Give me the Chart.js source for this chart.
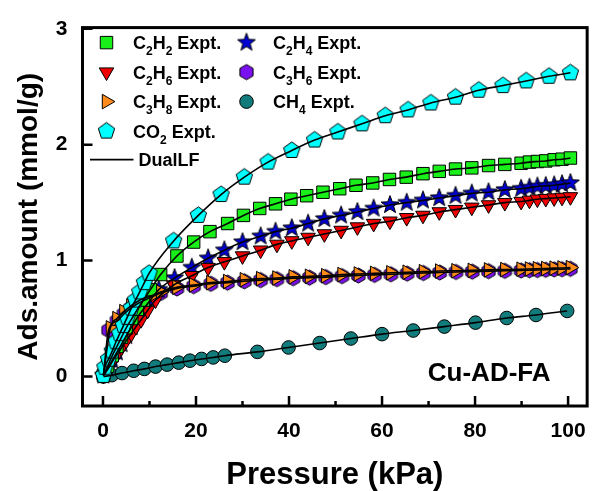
<!DOCTYPE html>
<html>
<head>
<meta charset="utf-8">
<title>Cu-AD-FA isotherms</title>
<script src="https://cdn.jsdelivr.net/npm/chart.js@4.4.1/dist/chart.umd.min.js"></script>
<style>
  html, body { margin: 0; padding: 0; background: #fff; }
</style>
</head>
<body>
<canvas id="isotherm" width="599" height="491"></canvas>
<script>
// isotherm points: pressure (kPa) / uptake (mmol/g)
const pCO2 = [0.1, 0.4, 1.2, 2.0, 2.8, 3.6, 4.4, 5.2, 6.1, 7.0, 7.9, 8.9, 9.9, 15.2, 20.5, 25.4, 30.4, 35.5, 40.6, 45.5, 50.5, 55.7, 60.7, 65.6, 70.5, 75.8, 80.8, 86.0, 91.0, 95.9, 100.5];
const qCO2 = [0.01, 0.08, 0.15, 0.22, 0.30, 0.37, 0.44, 0.51, 0.59, 0.66, 0.73, 0.81, 0.89, 1.17, 1.39, 1.57, 1.72, 1.85, 1.95, 2.04, 2.11, 2.18, 2.25, 2.30, 2.36, 2.41, 2.47, 2.51, 2.55, 2.59, 2.62];

const pC2H2 = [0.1, 1.0, 2.0, 3.0, 4.0, 5.0, 6.2, 7.4, 8.7, 10.2, 12.4, 15.9, 19.5, 23.0, 26.8, 30.2, 33.7, 37.1, 40.4, 43.8, 47.3, 50.9, 54.4, 58.0, 61.6, 65.2, 68.8, 72.3, 75.8, 79.3, 82.9, 86.4, 89.9, 91.7, 93.4, 95.2, 97.0, 98.7, 100.5];
const qC2H2 = [0.01, 0.09, 0.18, 0.26, 0.34, 0.42, 0.50, 0.58, 0.66, 0.75, 0.88, 1.04, 1.16, 1.25, 1.32, 1.39, 1.45, 1.49, 1.53, 1.56, 1.59, 1.62, 1.65, 1.67, 1.70, 1.72, 1.75, 1.77, 1.79, 1.80, 1.82, 1.83, 1.84, 1.85, 1.855, 1.86, 1.87, 1.875, 1.885];

const pC2H4 = [0.1, 1.0, 2.0, 3.0, 4.0, 5.0, 6.2, 7.4, 8.7, 10.2, 12.0, 15.4, 19.1, 22.6, 26.1, 30.0, 33.9, 37.1, 40.6, 44.1, 47.6, 51.2, 54.7, 58.2, 61.7, 65.3, 68.8, 72.3, 75.8, 79.3, 82.9, 86.4, 89.9, 91.7, 93.4, 95.2, 97.0, 98.7, 100.5];
const qC2H4 = [0.01, 0.07, 0.14, 0.21, 0.28, 0.35, 0.43, 0.51, 0.58, 0.66, 0.75, 0.85, 0.94, 1.02, 1.09, 1.16, 1.21, 1.25, 1.28, 1.32, 1.36, 1.39, 1.42, 1.45, 1.48, 1.50, 1.52, 1.54, 1.56, 1.58, 1.59, 1.61, 1.62, 1.63, 1.64, 1.645, 1.65, 1.66, 1.67];

const pC2H6 = [0.1, 1.0, 2.0, 3.0, 4.0, 5.0, 6.1, 7.1, 8.2, 9.6, 11.3, 15.2, 19.1, 22.6, 26.1, 30.0, 33.9, 37.4, 40.6, 44.1, 47.6, 51.2, 54.7, 58.2, 61.7, 65.3, 68.8, 72.3, 75.8, 79.3, 82.9, 86.4, 89.9, 91.7, 93.4, 95.2, 97.0, 98.7, 100.5];
const qC2H6 = [0.01, 0.06, 0.13, 0.19, 0.25, 0.31, 0.37, 0.43, 0.49, 0.57, 0.66, 0.79, 0.87, 0.94, 0.99, 1.04, 1.09, 1.14, 1.17, 1.20, 1.23, 1.26, 1.29, 1.32, 1.34, 1.37, 1.39, 1.42, 1.44, 1.46, 1.48, 1.50, 1.51, 1.52, 1.53, 1.535, 1.54, 1.545, 1.55];

const pC3H8 = [0.1, 1.6, 3.0, 4.5, 6.0, 7.5, 9.0, 10.6, 12.4, 15.9, 19.5, 23.2, 26.8, 30.4, 33.9, 37.4, 40.9, 44.4, 47.9, 51.4, 54.9, 58.4, 61.9, 65.4, 68.9, 72.4, 75.9, 79.4, 82.9, 86.4, 89.9, 91.7, 93.4, 95.2, 97.0, 98.7, 100.5];
const qC3H8 = [0.01, 0.42, 0.50, 0.56, 0.61, 0.65, 0.68, 0.70, 0.73, 0.77, 0.79, 0.81, 0.82, 0.835, 0.845, 0.85, 0.86, 0.865, 0.87, 0.88, 0.885, 0.89, 0.895, 0.90, 0.905, 0.91, 0.913, 0.916, 0.92, 0.923, 0.926, 0.928, 0.93, 0.932, 0.935, 0.937, 0.94];

const pC3H6 = [0.1, 1.2, 3.0, 4.5, 6.0, 7.5, 9.0, 10.6, 12.4, 15.9, 19.5, 23.2, 26.8, 30.4, 33.9, 37.4, 40.9, 44.4, 47.9, 51.4, 54.9, 58.4, 61.9, 65.4, 68.9, 72.4, 75.9, 79.4, 82.9, 86.4, 89.9, 91.7, 93.4, 95.2, 97.0, 98.7, 100.5];
const qC3H6 = [0.01, 0.40, 0.48, 0.54, 0.59, 0.63, 0.66, 0.69, 0.72, 0.76, 0.78, 0.80, 0.81, 0.822, 0.832, 0.84, 0.848, 0.853, 0.858, 0.866, 0.872, 0.877, 0.882, 0.888, 0.893, 0.898, 0.902, 0.905, 0.909, 0.912, 0.915, 0.917, 0.919, 0.921, 0.924, 0.926, 0.929];

const pCH4 = [0.1, 1.9, 4.1, 6.6, 8.9, 11.3, 13.8, 16.3, 18.7, 21.2, 23.7, 26.2, 33.2, 39.9, 46.6, 53.3, 60.0, 66.7, 73.4, 80.1, 86.8, 93.1, 99.8];
const qCH4 = [0.0, 0.012, 0.03, 0.05, 0.066, 0.086, 0.103, 0.12, 0.137, 0.152, 0.165, 0.18, 0.213, 0.251, 0.289, 0.328, 0.366, 0.397, 0.431, 0.465, 0.505, 0.531, 0.566];

const xTicks = [0, 20, 40, 60, 80, 100];
const xMinorTicks = [10, 30, 50, 70, 90];
const yTicks = [0, 1, 2, 3];

const FONT = "'Liberation Sans', Arial, sans-serif";

// filled polygon / star markers drawn once into small canvases
function polyMarker(n, rOut, rIn, fill) {
  const size = Math.ceil(rOut * 2 + 3);
  const c = document.createElement("canvas");
  c.width = size; c.height = size;
  const g = c.getContext("2d");
  const count = rIn ? n * 2 : n;
  g.beginPath();
  for (let i = 0; i < count; i++) {
    const r = rIn && i % 2 ? rIn : rOut;
    const a = -Math.PI / 2 + i * 2 * Math.PI / count;
    const px = size / 2 + r * Math.cos(a), py = size / 2 + r * Math.sin(a);
    if (i === 0) g.moveTo(px, py); else g.lineTo(px, py);
  }
  g.closePath();
  g.fillStyle = fill;
  g.fill();
  g.lineWidth = 1;
  g.strokeStyle = "#000";
  g.stroke();
  return c;
}

const pentagon = polyMarker(5, 8.6, 0, "#00ffff");
const star = polyMarker(5, 9.4, 3.9, "#0000d0");
const hexagon = polyMarker(6, 7.6, 0, "#7b10ee");

// legend order follows the figure; draw order puts CO2 on top
const series = [
  { name: "CO2 Expt.", p: pCO2, q: qCO2, style: pentagon, radius: 8.6, rot: 0, color: "#00ffff" },
  { name: "C2H2 Expt.", p: pC2H2, q: qC2H2, style: "rect", radius: 8.8, rot: 0, color: "#19f019" },
  { name: "C3H8 Expt.", p: pC3H8, q: qC3H8, style: "triangle", radius: 8.4, rot: 90, color: "#ff8c1a" },
  { name: "C2H6 Expt.", p: pC2H6, q: qC2H6, style: "triangle", radius: 8.4, rot: 180, color: "#f00000" },
  { name: "C2H4 Expt.", p: pC2H4, q: qC2H4, style: star, radius: 9.4, rot: 0, color: "#0000d0" },
  { name: "C3H6 Expt.", p: pC3H6, q: qC3H6, style: hexagon, radius: 7.6, rot: 0, color: "#7b10ee" },
  { name: "CH4 Expt.", p: pCH4, q: qCH4, style: "circle", radius: 6.8, rot: 0, color: "#127b7b" }
];

const legendCols = [
  ["C2H2 Expt.", "C2H6 Expt.", "C3H8 Expt.", "CO2 Expt."],
  ["C2H4 Expt.", "C3H6 Expt.", "CH4 Expt."]
];

const toXY = s => s.p.map((x, i) => ({ x, y: s.q[i] }));

const datasets = [];
series.forEach(s => {
  datasets.push({
    label: s.name + " fit",
    data: toXY(s),
    showLine: true,
    borderColor: "#000",
    borderWidth: 1.6,
    cubicInterpolationMode: "monotone",
    pointRadius: 0,
    order: 0
  });
});
series.forEach(s => {
  datasets.push({
    label: s.name,
    data: toXY(s),
    showLine: false,
    pointStyle: s.style,
    pointRadius: s.radius,
    pointRotation: s.rot,
    pointBackgroundColor: s.color,
    pointBorderColor: "#000",
    pointBorderWidth: 1,
    order: 1
  });
});

// text with chemical subscripts: a digit after a letter is lowered
function drawFormula(ctx, text, x, y) {
  const big = "bold 18px " + FONT, small = "bold 12px " + FONT;
  let cx = x;
  for (let i = 0; i < text.length; i++) {
    const ch = text[i];
    const sub = /[0-9]/.test(ch) && i > 0 && /[A-Z]/.test(text[i - 1]);
    ctx.font = sub ? small : big;
    ctx.fillText(ch, cx, sub ? y + 6 : y);
    cx += ctx.measureText(ch).width;
  }
}

const decor = {
  id: "decor",
  afterDatasetsDraw(chart) {
    const { ctx, chartArea: a, scales: { x, y } } = chart;
    ctx.save();
    ctx.strokeStyle = "#000";
    ctx.lineWidth = 2.5;
    ctx.beginPath();
    xTicks.forEach(v => {
      const px = x.getPixelForValue(v);
      ctx.moveTo(px, a.bottom); ctx.lineTo(px, a.bottom - 10);
    });
    xMinorTicks.forEach(v => {
      const px = x.getPixelForValue(v);
      ctx.moveTo(px, a.bottom); ctx.lineTo(px, a.bottom - 5);
    });
    yTicks.forEach(v => {
      const py = y.getPixelForValue(v);
      ctx.moveTo(a.left, py); ctx.lineTo(a.left + 10, py);
    });
    ctx.stroke();
    ctx.lineWidth = 3;
    ctx.strokeRect(a.left, a.top, a.right - a.left, a.bottom - a.top);

    // legend
    ctx.fillStyle = "#000";
    ctx.textBaseline = "alphabetic";
    ctx.textAlign = "left";
    const colX = [a.left + 24, a.left + 164];
    legendCols.forEach((col, c) => {
      col.forEach((name, r) => {
        const s = series.find(d => d.name === name);
        const cy = a.top + 15 + r * 29.5;
        ctx.save();
        ctx.fillStyle = s.color;
        ctx.strokeStyle = "#000";
        ctx.lineWidth = 1;
        Chart.helpers.drawPoint(ctx, { pointStyle: s.style, radius: s.radius, rotation: s.rot, borderWidth: 1 }, colX[c], cy);
        ctx.restore();
        drawFormula(ctx, name, colX[c] + 26.5, cy + 6.5);
      });
    });
    const ly = a.top + 132;
    ctx.lineWidth = 1.6;
    ctx.beginPath();
    ctx.moveTo(a.left + 7.5, ly); ctx.lineTo(a.left + 51, ly);
    ctx.stroke();
    drawFormula(ctx, "DualLF", a.left + 56, ly + 6.5);

    ctx.font = "bold 26px " + FONT;
    ctx.textAlign = "center";
    ctx.fillText("Cu-AD-FA", a.right - 98, a.bottom - 25.5);
    ctx.restore();
  }
};

new Chart(document.getElementById("isotherm"), {
  type: "scatter",
  data: { datasets },
  options: {
    responsive: false,
    devicePixelRatio: 1,
    animation: false,
    layout: { padding: { left: 0, right: 4, top: 25, bottom: 0 } },
    plugins: { legend: { display: false }, tooltip: { enabled: false } },
    scales: {
      x: {
        type: "linear",
        min: -4.4,
        max: 104.1,
        grid: { display: false, drawTicks: false },
        border: { display: false },
        afterBuildTicks: s => { s.ticks = xTicks.map(v => ({ value: v })); },
        afterFit: s => { s.height = 85; },
        ticks: { color: "#000", padding: 13, maxRotation: 0, font: { family: FONT, size: 21, weight: "bold" } },
        title: {
          display: true, text: "Pressure (kPa)", color: "#000",
          padding: { top: 0, bottom: 0 },
          font: { family: FONT, size: 31, weight: "bold", lineHeight: 1 }
        }
      },
      y: {
        type: "linear",
        min: -0.254,
        max: 3.01,
        grid: { display: false, drawTicks: false },
        border: { display: false },
        afterBuildTicks: s => { s.ticks = yTicks.map(v => ({ value: v })); },
        afterFit: s => { s.width = 82.5; },
        ticks: { color: "#000", padding: 15, font: { family: FONT, size: 21, weight: "bold" } },
        title: {
          display: true, text: "Ads.amount (mmol/g)", color: "#000",
          padding: { top: 15, bottom: 0 },
          font: { family: FONT, size: 28, weight: "bold", lineHeight: 1 }
        }
      }
    }
  },
  plugins: [decor]
});
</script>
</body>
</html>
